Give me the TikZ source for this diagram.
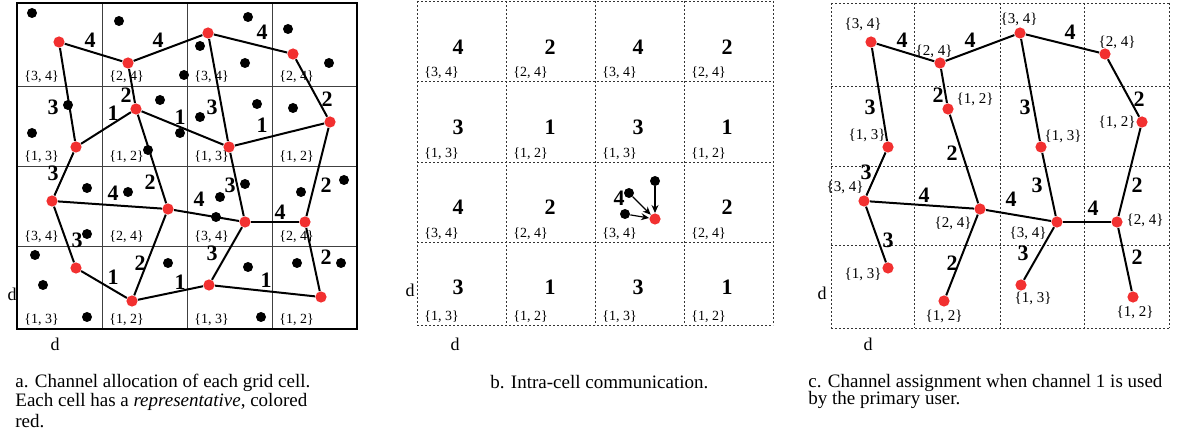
\documentclass[tikz,border=0pt]{standalone}
\usepackage{fontspec}
\setmainfont{Liberation Serif}
\usetikzlibrary{arrows.meta}
\definecolor{repred}{RGB}{242,48,48}
\begin{document}
\begin{tikzpicture}[x=0.5pt,y=-0.5pt,
  rep/.style={circle,fill=repred,inner sep=0pt,minimum size=5.6pt},
  blk/.style={circle,fill=black,inner sep=0pt,minimum size=5pt},
  chn/.style={font=\fontsize{11}{11}\selectfont\bfseries,inner sep=0pt},
  chset/.style={font=\fontsize{7}{7}\selectfont,inner sep=0pt,anchor=south west},
  cset/.style={font=\fontsize{7.5}{7.5}\selectfont,inner sep=0pt},
  link/.style={line width=1pt},
  agrid/.style={line width=0.45pt,black!75},
  dgrid/.style={line width=0.45pt,black!80,dash pattern=on 1.1pt off 0.9pt},
  dimlabel/.style={font=\fontsize{9}{9}\selectfont,inner sep=0pt},
  captext/.style={font=\fontsize{9.5}{9.5}\selectfont,inner sep=0pt,anchor=base west},
  comm/.style={line width=0.6pt,-{Stealth[length=4pt,width=3.5pt]}}
]
\useasboundingbox (0,0) rectangle (1200,438);

% ---------------- panel a ----------------
\foreach \x in {102,187,272} \draw[agrid] (\x,3) -- (\x,329);
\foreach \y in {86,166,246} \draw[agrid] (17,\y) -- (357,\y);
\draw[line width=1.2pt] (17,3) rectangle (357,329);

\foreach \x/\y/\t [count=\i] in {
  17/86/{\{3, 4\}},102/86/{\{2, 4\}},187/86/{\{3, 4\}},272/86/{\{2, 4\}},
  17/166/{\{1, 3\}},102/166/{\{1, 2\}},187/166/{\{1, 3\}},272/166/{\{1, 2\}},
  17/246/{\{3, 4\}},102/246/{\{2, 4\}},187/246/{\{3, 4\}},272/246/{\{2, 4\}},
  17/329/{\{1, 3\}},102/329/{\{1, 2\}},187/329/{\{1, 3\}},272/329/{\{1, 2\}}}
  \node[chset] (as\i) at (\x+7,\y-3) {\t};

\foreach \x/\y [count=\i] in {32/13,119/21,184/75,68/105,160/100,32/133,180/133,
  148/150,200/117,248/17,288/29,200/46,245/63,329/63,257/104,293/108,
  87/188,128/192,87/234,35/255,43/285,87/317,168/263,245/184,220/197,
  216/217,301/192,344/180,248/267,297/263,341/263,261/317}
  \node[blk] (ak\i) at (\x,\y) {};

\foreach \n/\x/\y in {A1/59/42,A2/128/63,A3/208/33,A4/293/54,
  B1/76/147,B2/136/109,B3/229/147,B4/330/122,
  C1/52/201,C2/168/209,C3/245/222,C4/305/222,
  D1/76/268,D2/132/301,D3/209/285,D4/321/297}
  {\node[rep] (a\n) at (\x,\y) {};
   \node[rep] (c\n) at (\x+812,\y) {};}

\foreach \u/\v in {A1/A2,A2/A3,A3/A4,A1/B1,A2/B2,B2/B1,B2/B3,A3/B3,B3/B4,A4/B4,
  B1/C1,B2/C2,C1/C2,C2/C3,B3/C3,C3/C4,B4/C4,C1/D1,D1/D2,C2/D2,D2/D3,C3/D3,D3/D4,C4/D4}
  \draw[link] (a\u) -- (a\v);

\foreach \x/\y/\t [count=\i] in {90/40/4,158/40/4,262/32/4,53/107/3,126/95/2,113/113/1,
  180/117/1,212/107/3,262/125/1,327/99/2,53/173/3,150/182/2,113/193/4,230/185/3,
  199/199/4,326/185/2,280/212/4,77/240/3,140/263/2,113/277/1,180/282/1,212/253/3,
  266/280/1,326/257/2}
  \node[chn] (al\i) at (\x,\y) {\t};

\node[dimlabel] (ad1) at (12,294) {d};
\node[dimlabel] (ad2) at (55,344) {d};

% ---------------- panel b ----------------
\foreach \x in {417,506,595,684,773} \draw[dgrid] (\x,1) -- (\x,325);
\foreach \y in {1,81,162,242,325} \draw[dgrid] (417,\y) -- (773,\y);

\foreach \x/\y/\t [count=\i] in {
  417/81/{\{3, 4\}},506/81/{\{2, 4\}},595/81/{\{3, 4\}},684/81/{\{2, 4\}},
  417/162/{\{1, 3\}},506/162/{\{1, 2\}},595/162/{\{1, 3\}},684/162/{\{1, 2\}},
  417/242/{\{3, 4\}},506/242/{\{2, 4\}},595/242/{\{3, 4\}},684/242/{\{2, 4\}},
  417/325/{\{1, 3\}},506/325/{\{1, 2\}},595/325/{\{1, 3\}},684/325/{\{1, 2\}}}
  \node[chset] (bs\i) at (\x+7,\y-2) {\t};

\foreach \x/\y/\t [count=\i] in {
  458/47/4,550/47/2,638/47/4,727/47/2,
  458/127/3,550/127/1,638/127/3,727/127/1,
  458/207/4,550/207/2,727/207/2,
  458/287/3,550/287/1,638/287/3,727/287/1}
  \node[chn] (bl\i) at (\x,\y) {\t};
\node[chn] (bl16) at (619,198) {4};

\node[rep] (br) at (655,219) {};
\node[blk] (bk1) at (629,193) {};
\node[blk] (bk2) at (625,214) {};
\node[blk] (bk3) at (655,181) {};
\foreach \i in {1,2,3} \draw[comm] (bk\i) -- (br);

\node[dimlabel] (bd1) at (410,290) {d};
\node[dimlabel] (bd2) at (455,344) {d};

% ---------------- panel c ----------------
\foreach \x in {831,914,1000,1084,1169} \draw[dgrid] (\x,3) -- (\x,328);
\foreach \y in {3,86,166,245,328} \draw[dgrid] (831,\y) -- (1169,\y);

\foreach \u/\v in {A1/A2,A2/A3,A3/A4,A1/B1,A2/B2,A3/B3,A4/B4,
  B1/C1,B2/C2,C1/C2,C2/C3,B3/C3,C3/C4,B4/C4,C1/D1,C2/D2,C3/D3,C4/D4}
  \draw[link] (c\u) -- (c\v);

\foreach \x/\y/\t [count=\i] in {902/40/4,970/40/4,1070/32/4,870/107/3,938/95/2,
  952/153/2,1025/107/3,1139/99/2,866/172/3,924/195/4,1037/185/3,1137/185/2,
  1011/199/4,1093/208/4,888/240/3,952/263/2,1023/253/3,1137/257/2}
  \node[chn] (cl\i) at (\x,\y) {\t};

\foreach \x/\y/\t [count=\i] in {
  863/24/{\{3, 4\}},934/51/{\{2, 4\}},975/99/{\{1, 2\}},867/135/{\{1, 3\}},
  1019/19/{\{3, 4\}},1117/42/{\{2, 4\}},1117/122/{\{1, 2\}},1063/136/{\{1, 3\}},
  845/187/{\{3, 4\}},953/223/{\{2, 4\}},863/274/{\{1, 3\}},944/316/{\{1, 2\}},
  1028/233/{\{3, 4\}},1145/220/{\{2, 4\}},1033/298/{\{1, 3\}},1135/312/{\{1, 2\}}}
  \node[cset] (cs\i) at (\x,\y) {\t};

\node[dimlabel] (cd1) at (822,293) {d};
\node[dimlabel] (cd2) at (868,344) {d};

% ---------------- captions ----------------
\node[captext] (capa1) at (15,387) {a. Channel allocation of each grid cell.};
\node[captext] (capa2) at (15,407) {Each cell has a \emph{representative}, colored};
\node[captext] (capa3) at (15,427) {red.};
\node[captext] (capb) at (490,388) {b. Intra-cell communication.};
\node[captext] (capc1) at (808,387) {c. Channel assignment when channel 1 is used};
\node[captext] (capc2) at (808,405) {by the primary user.};
\end{tikzpicture}
\end{document}
